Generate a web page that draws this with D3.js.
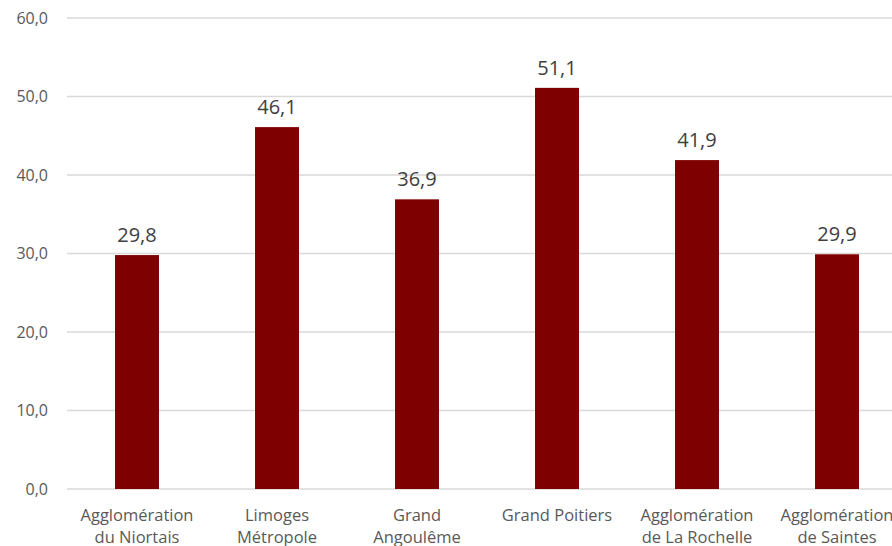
<!DOCTYPE html>
<html><head><meta charset="utf-8">
<script src="https://cdn.jsdelivr.net/npm/d3@7"></script>
<style>body{margin:0;background:#fff;overflow:hidden}</style>
</head><body>
<svg id="c" width="892" height="546"></svg>
<script>
const categories = [["Agglomération","du Niortais"],["Limoges","Métropole"],["Grand","Angoulême"],["Grand Poitiers"],["Agglomération","de La Rochelle"],["Agglomération","de Saintes"]];
const values = [29.8, 46.1, 36.9, 51.1, 41.9, 29.9];
const yTicks = [0, 10, 20, 30, 40, 50, 60];

const svg = d3.select("#c");
const font = "'Open Sans', sans-serif";
const fmt = v => v.toFixed(1).replace(".", ",");
const x = d3.scaleBand().domain(d3.range(categories.length)).range([67, 907]).paddingInner(0.686).paddingOuter(0.343);
const y = d3.scaleLinear().domain([0, 60]).range([489, 18]);

const g = svg.append("g");
g.selectAll("line.grid").data(yTicks).join("line")
  .attr("x1", 67).attr("x2", 892).attr("y1", d => y(d)).attr("y2", d => y(d))
  .attr("stroke", "#d9d9d9").attr("stroke-width", 1.5);
g.selectAll("text.yt").data(yTicks).join("text")
  .attr("x", 48).attr("y", d => y(d)).attr("dy", "0.35em").attr("text-anchor", "end")
  .attr("font-family", font).attr("font-size", 16).attr("fill", "#595959").text(fmt);

g.selectAll("rect").data(values).join("rect")
  .attr("x", (d, i) => x(i)).attr("width", x.bandwidth())
  .attr("y", d => y(d)).attr("height", d => y(0) - y(d)).attr("fill", "#7f0000");

g.selectAll("text.val").data(values).join("text")
  .attr("x", (d, i) => x(i) + x.bandwidth() / 2).attr("y", d => y(d) - 13)
  .attr("text-anchor", "middle").attr("font-family", font).attr("font-size", 20)
  .attr("fill", "#404040").text(fmt);

categories.forEach((lines, i) => {
  const t = g.append("text").attr("text-anchor", "middle").attr("font-family", font)
    .attr("font-size", 16.5).attr("fill", "#595959");
  lines.forEach((l, k) => t.append("tspan").attr("x", x(i) + x.bandwidth() / 2).attr("y", 521 + k * 22).text(l));
});
</script>
</body></html>
